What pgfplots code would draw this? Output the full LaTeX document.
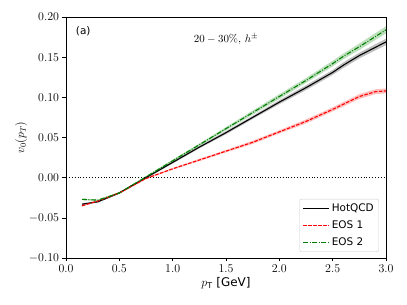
\documentclass[border=0pt]{standalone}
\usepackage{pgfplots}
\pgfplotsset{compat=1.18}
\usepackage{pgfplotstable}
\usepgfplotslibrary{fillbetween}
\usepackage{fontspec}
\setmainfont{DejaVu Sans}
\newfontfamily\lmr{Latin Modern Roman}
\definecolor{mplgreen}{HTML}{008000}
\definecolor{mplred}{HTML}{FF0000}

\pgfplotstableread{
x y e
0.15 -0.033 0.0010
0.30 -0.030 0.0010
0.50 -0.019 0.0010
0.75 0.000 0.0010
1.00 0.019 0.0015
1.25 0.038 0.0015
1.50 0.056 0.0020
1.75 0.075 0.0020
2.00 0.094 0.0025
2.25 0.112 0.0030
2.50 0.131 0.0030
2.60 0.140 0.0035
2.75 0.152 0.0035
3.00 0.169 0.0040
}\hotqcd

\pgfplotstableread{
x y e
0.15 -0.035 0.0010
0.30 -0.029 0.0010
0.50 -0.019 0.0010
0.75 -0.001 0.0010
1.00 0.011 0.0010
1.25 0.022 0.0015
1.50 0.033 0.0015
1.75 0.044 0.0020
2.00 0.057 0.0020
2.25 0.070 0.0025
2.50 0.085 0.0025
2.75 0.101 0.0030
2.90 0.107 0.0030
3.00 0.108 0.0030
}\eosone

\pgfplotstableread{
x y e
0.15 -0.027 0.0010
0.30 -0.028 0.0010
0.50 -0.019 0.0010
0.75 0.001 0.0010
1.00 0.021 0.0015
1.25 0.041 0.0015
1.50 0.061 0.0020
1.75 0.081 0.0025
2.00 0.101 0.0030
2.25 0.121 0.0030
2.50 0.142 0.0035
2.60 0.151 0.0035
2.75 0.163 0.0040
3.00 0.184 0.0045
}\eostwo

\begin{document}
\begin{tikzpicture}
\begin{axis}[
  scale only axis,
  width=320bp, height=241bp,
  xmin=0, xmax=3, ymin=-0.1, ymax=0.2,
  xtick={0,0.5,...,3}, ytick={-0.1,-0.05,...,0.2},
  xticklabel style={/pgf/number format/.cd, fixed, fixed zerofill, precision=1},
  yticklabel style={/pgf/number format/.cd, fixed, fixed zerofill, precision=2},
  tick label style={font=\fontsize{12}{14}\selectfont},
  label style={font=\fontsize{12}{14}\selectfont},
  scaled y ticks=false,
  tick align=outside, xtick pos=bottom, ytick pos=left,
  major tick length=3.5bp,
  tick style={black, line width=0.6pt},
  axis line style={line width=0.6pt},
  xlabel={$p_{\mathrm{T}}$ [GeV]},
  ylabel={$v_0(p_T)$},
  ylabel style={yshift=-5bp},
  xlabel style={yshift=2bp},
  legend style={at={(0.978,0.025)}, anchor=south east, draw=black!20, rounded corners=2pt, font=\fontsize{10.5}{12.5}\selectfont, row sep=3.5pt, inner sep=3pt},
  legend cell align=left,
  legend image code/.code={\draw[mark repeat=2,mark phase=2,#1] plot coordinates {(0bp,0bp) (13bp,0bp) (26bp,0bp)};},
]
% bands
\addplot[name path=bl, draw=none, forget plot] table[x=x, y expr=\thisrow{y}-\thisrow{e}] {\hotqcd};
\addplot[name path=bu, draw=none, forget plot] table[x=x, y expr=\thisrow{y}+\thisrow{e}] {\hotqcd};
\addplot[black, fill opacity=0.25, draw=none, forget plot] fill between[of=bl and bu];
\addplot[name path=rl, draw=none, forget plot] table[x=x, y expr=\thisrow{y}-\thisrow{e}] {\eosone};
\addplot[name path=ru, draw=none, forget plot] table[x=x, y expr=\thisrow{y}+\thisrow{e}] {\eosone};
\addplot[mplred, fill opacity=0.25, draw=none, forget plot] fill between[of=rl and ru];
\addplot[name path=gl, draw=none, forget plot] table[x=x, y expr=\thisrow{y}-\thisrow{e}] {\eostwo};
\addplot[name path=gu, draw=none, forget plot] table[x=x, y expr=\thisrow{y}+\thisrow{e}] {\eostwo};
\addplot[mplgreen, fill opacity=0.25, draw=none, forget plot] fill between[of=gl and gu];
% zero line
\addplot[black, dotted, line width=0.9pt, forget plot] coordinates {(0,0) (3,0)};
% curves
\addplot[draw=black, line width=1.1pt] table[x=x, y=y] {\hotqcd};
\addlegendentry{HotQCD}
\addplot[draw=mplred, line width=1.1pt, dash pattern=on 3.5pt off 1.5pt] table[x=x, y=y] {\eosone};
\addlegendentry{EOS 1}
\addplot[draw=mplgreen, line width=1.1pt, dash pattern=on 5pt off 1.5pt on 1pt off 1.5pt] table[x=x, y=y] {\eostwo};
\addlegendentry{EOS 2}
\node[anchor=north west, font=\fontsize{10.5}{12.5}\selectfont] at (rel axis cs:0.02,0.975) {(a)};
\node[anchor=center, font=\fontsize{11}{13}\selectfont] at (rel axis cs:0.5,0.91) {$20-30\mbox{\lmr\%},\, h^{\pm}$};
\end{axis}
\path[use as bounding box] ([xshift=-66bp,yshift=-47bp]current axis.south west) rectangle ([xshift=21bp,yshift=17bp]current axis.north east);
\end{tikzpicture}
\end{document}
